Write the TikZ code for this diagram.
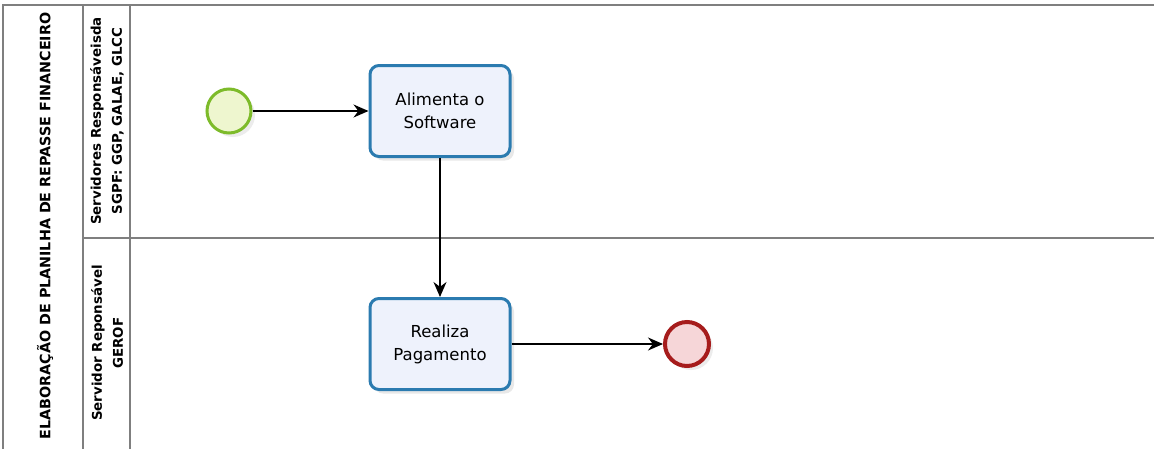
\documentclass[tikz,border=0pt]{standalone}
\usepackage{fontspec}
\setmainfont{DejaVu Sans}
\usetikzlibrary{arrows.meta, positioning, shadows}

\definecolor{lanegray}{HTML}{7F7F7F}
\definecolor{taskblue}{HTML}{2B7BB0}
\definecolor{taskfill}{HTML}{EEF2FC}
\definecolor{startgreen}{HTML}{7DBB2A}
\definecolor{startfill}{HTML}{EEF6CF}
\definecolor{endred}{HTML}{A61C1C}
\definecolor{endfill}{HTML}{F6D6D8}

\begin{document}
\begin{tikzpicture}[x=1pt, y=-1pt,
  task/.style={draw=taskblue, line width=3pt, rounded corners=9pt,
               fill=taskfill, minimum width=140pt, minimum height=91pt,
               align=center, font=\fontsize{16.5}{23}\selectfont,
               drop shadow={shadow xshift=4pt, shadow yshift=-4pt, opacity=0.18}},
  startev/.style={circle, draw=startgreen, line width=3pt, fill=startfill,
                  minimum size=44pt, inner sep=0pt,
                  drop shadow={shadow xshift=4pt, shadow yshift=-4pt, opacity=0.15}},
  endev/.style={circle, draw=endred, line width=4pt, fill=endfill,
                minimum size=44pt, inner sep=0pt,
                drop shadow={shadow xshift=4pt, shadow yshift=-4pt, opacity=0.15}},
  lane/.style={draw=lanegray, line width=2.5pt},
  head/.style={rotate=90, align=center, font=\bfseries\fontsize{13.4}{21}\selectfont},
  arr/.style={-{Stealth[length=15pt, width=13pt]}, line width=1.5pt, black}
]
\useasboundingbox (0,0) rectangle (1154,448);

% pool and lanes
\draw[lane] (3,460) -- (3,5) -- (1160,5);
\draw[lane] (83,5) -- (83,460);
\draw[lane] (130,5) -- (130,460);
\draw[lane] (83,238) -- (1160,238);

\node[head, font=\bfseries\fontsize{14.3}{16}\selectfont] (pool) at (45,226)
  {ELABORAÇÃO DE PLANILHA DE REPASSE FINANCEIRO};
\node[head] (sgpf) at (107,121) {Servidores Responsáveisda\\SGPF: GGP, GALAE, GLCC};
\node[head] (gerof) at (107,343) {Servidor Reponsável\\GEROF};

% flow
\node[startev] (start) at (229,111) {};
\node[task] (alimenta) at (440,111) {Alimenta o\\Software};
\node[task] (realiza) at (440,344) {Realiza\\Pagamento};
\node[endev] (fim) at (687,344) {};

\draw[arr] (start) -- (alimenta);
\draw[arr] (alimenta) -- (realiza);
\draw[arr] (realiza) -- (fim);
\end{tikzpicture}
\end{document}
